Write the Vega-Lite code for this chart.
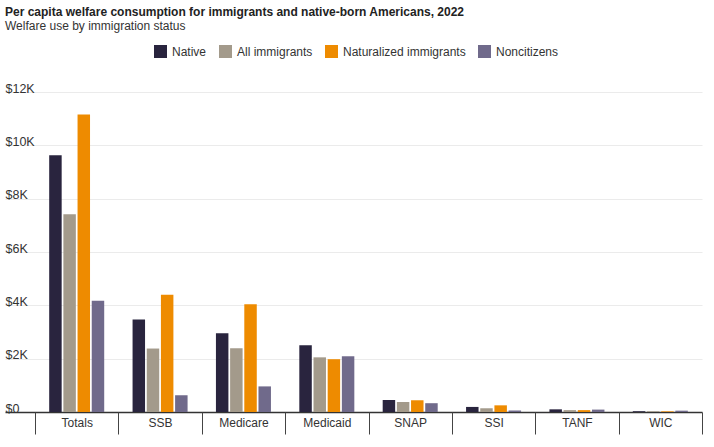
{
  "$schema": "https://vega.github.io/schema/vega-lite/v6.json",
  "width": 697,
  "height": 320,
  "autosize": {"type": "none"},
  "padding": {"left": 5, "top": 92, "right": 12, "bottom": 35},
  "title": {
    "text": "Per capita welfare consumption for immigrants and native-born Americans, 2022",
    "subtitle": "Welfare use by immigration status",
    "anchor": "start",
    "frame": "group",
    "offset": 12,
    "font": "Liberation Sans",
    "fontSize": 12,
    "fontWeight": "bold",
    "color": "#222222",
    "subtitleFont": "Liberation Sans",
    "subtitleFontSize": 12,
    "subtitleColor": "#333333",
    "subtitlePadding": 2
  },
  "config": {
    "view": {"stroke": null},
    "font": "Liberation Sans"
  },
  "data": {
    "values": [
      {"program": "Totals", "group": "Native", "value": 9630},
      {"program": "Totals", "group": "All immigrants", "value": 7420},
      {"program": "Totals", "group": "Naturalized immigrants", "value": 11160},
      {"program": "Totals", "group": "Noncitizens", "value": 4170},
      {"program": "SSB", "group": "Native", "value": 3470},
      {"program": "SSB", "group": "All immigrants", "value": 2380},
      {"program": "SSB", "group": "Naturalized immigrants", "value": 4400},
      {"program": "SSB", "group": "Noncitizens", "value": 630},
      {"program": "Medicare", "group": "Native", "value": 2950},
      {"program": "Medicare", "group": "All immigrants", "value": 2390},
      {"program": "Medicare", "group": "Naturalized immigrants", "value": 4040},
      {"program": "Medicare", "group": "Noncitizens", "value": 960},
      {"program": "Medicaid", "group": "Native", "value": 2500},
      {"program": "Medicaid", "group": "All immigrants", "value": 2050},
      {"program": "Medicaid", "group": "Naturalized immigrants", "value": 1980},
      {"program": "Medicaid", "group": "Noncitizens", "value": 2090},
      {"program": "SNAP", "group": "Native", "value": 450},
      {"program": "SNAP", "group": "All immigrants", "value": 375},
      {"program": "SNAP", "group": "Naturalized immigrants", "value": 440},
      {"program": "SNAP", "group": "Noncitizens", "value": 330},
      {"program": "SSI", "group": "Native", "value": 190},
      {"program": "SSI", "group": "All immigrants", "value": 140},
      {"program": "SSI", "group": "Naturalized immigrants", "value": 250},
      {"program": "SSI", "group": "Noncitizens", "value": 60},
      {"program": "TANF", "group": "Native", "value": 100},
      {"program": "TANF", "group": "All immigrants", "value": 70},
      {"program": "TANF", "group": "Naturalized immigrants", "value": 70},
      {"program": "TANF", "group": "Noncitizens", "value": 90},
      {"program": "WIC", "group": "Native", "value": 30},
      {"program": "WIC", "group": "All immigrants", "value": 30},
      {"program": "WIC", "group": "Naturalized immigrants", "value": 25},
      {"program": "WIC", "group": "Noncitizens", "value": 50}
    ]
  },
  "mark": {"type": "bar"},
  "encoding": {
    "x": {
      "field": "program",
      "type": "nominal",
      "sort": null,
      "scale": {"paddingInner": 0, "paddingOuter": 0.18, "align": 1},
      "axis": {
        "title": null,
        "domain": false,
        "tickBand": "extent",
        "tickSize": 22,
        "tickColor": "#444444",
        "tickWidth": 1,
        "labelAngle": 0,
        "labelPadding": -17,
        "labelFont": "Liberation Sans",
        "labelFontSize": 12,
        "labelColor": "#333333"
      }
    },
    "xOffset": {
      "field": "group",
      "type": "nominal",
      "sort": ["Native", "All immigrants", "Naturalized immigrants", "Noncitizens"],
      "scale": {"paddingInner": 0.12, "paddingOuter": 1.2}
    },
    "y": {
      "field": "value",
      "type": "quantitative",
      "scale": {"domain": [0, 12000], "nice": false},
      "axis": {
        "title": null,
        "domain": false,
        "ticks": false,
        "tickSize": 0,
        "values": [0, 2000, 4000, 6000, 8000, 10000, 12000],
        "labelExpr": "datum.value === 0 ? '$0' : '$' + (datum.value / 1000) + 'K'",
        "labelAlign": "left",
        "labelBaseline": "alphabetic",
        "labelPadding": 0,
        "labelDy": -3,
        "labelFont": "Liberation Sans",
        "labelFontSize": 12.5,
        "labelColor": "#333333",
        "gridColor": {"condition": {"test": "datum.value === 0", "value": "#333333"}, "value": "#ebebeb"},
        "gridWidth": {"condition": {"test": "datum.value === 0", "value": 1.5}, "value": 1}
      }
    },
    "color": {
      "field": "group",
      "type": "nominal",
      "scale": {
        "domain": ["Native", "All immigrants", "Naturalized immigrants", "Noncitizens"],
        "range": ["#29243e", "#a39a8b", "#ee8b00", "#706a8b"]
      },
      "legend": {
        "title": null,
        "orient": "none",
        "direction": "horizontal",
        "legendX": 149,
        "legendY": -47,
        "symbolType": "square",
        "symbolSize": 169,
        "symbolStrokeWidth": 0,
        "symbolOpacity": 1,
        "labelFont": "Liberation Sans",
        "labelFontSize": 12,
        "labelColor": "#333333",
        "labelOffset": 5,
        "columnPadding": 12,
        "padding": 0
      }
    }
  }
}
